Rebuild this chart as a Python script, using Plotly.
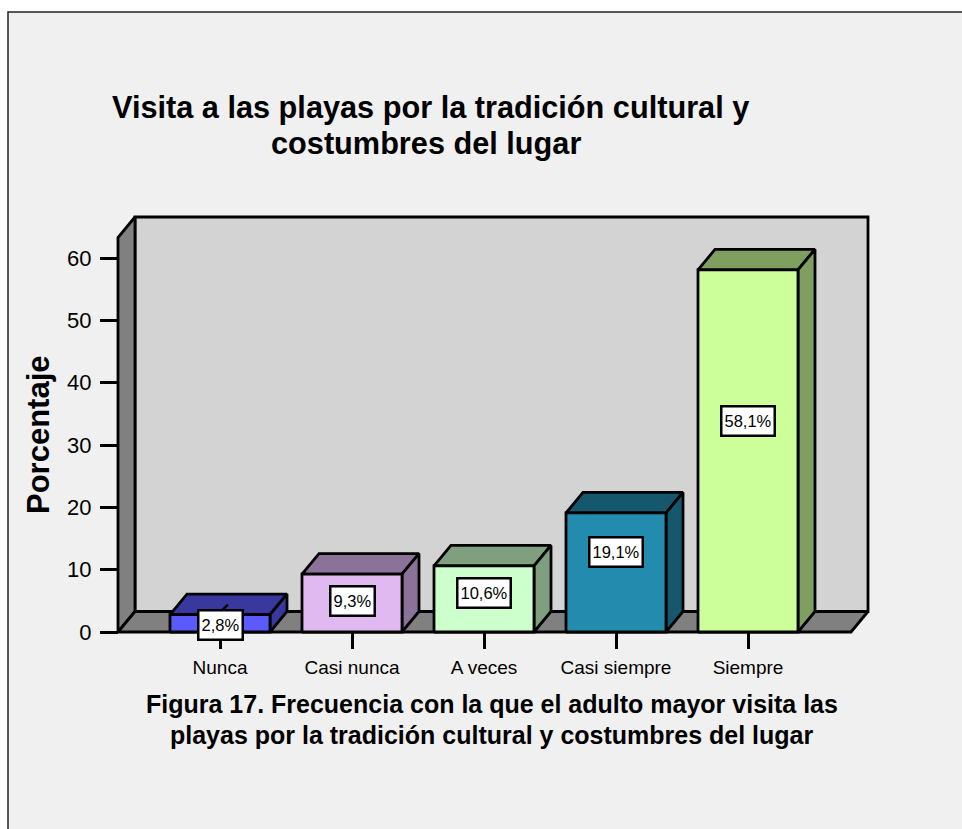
import plotly.graph_objects as go

categories = ["Nunca", "Casi nunca", "A veces", "Casi siempre", "Siempre"]
values = [2.8, 9.3, 10.6, 19.1, 58.1]
value_labels = ["2,8%", "9,3%", "10,6%", "19,1%", "58,1%"]
label_heights = [1.1, 4.9, 6.3, 12.8, 33.8]
front_colors = ["#5a5aff", "#dfb9f0", "#ccffcc", "#238bad", "#ccff99"]
side_colors = ["#38389f", "#8a7299", "#7f9f7f", "#15586d", "#7f9f60"]
y_ticks = [0, 10, 20, 30, 40, 50, 60]

W, H = 962, 829
L, R, T, B = 118, 868, 217, 632      # visible chart box, pixels
PAD = 8                              # spare room so that outlines are not clipped
PL, PR, PT, PB = L - PAD, R + PAD, T - PAD, B + PAD
PX_PER_CAT = 132.0
PX_PER_UNIT = 6.233
X0 = 220.0
x_min = (L - X0) / PX_PER_CAT
x_max = (R - X0) / PX_PER_CAT
y_max = (B - T) / PX_PER_UNIT
dx = 17 / PX_PER_CAT
dy = 20.5 / PX_PER_UNIT
half = 50 / PX_PER_CAT
wall_top = y_max - dy


def poly(xs, ys, fill):
    return go.Scatter(
        x=xs + [xs[0]], y=ys + [ys[0]], mode="lines", fill="toself", fillcolor=fill,
        line=dict(color="black", width=2.8, shape="linear"), hoverinfo="skip",
        showlegend=False,
    )


fig = go.Figure()
# back wall, left wall, floor
fig.add_trace(poly([x_min + dx, x_max, x_max, x_min + dx], [dy, dy, y_max, y_max], "#d3d3d3"))
fig.add_trace(poly([x_min, x_min + dx, x_min + dx, x_min], [0, dy, y_max, wall_top], "#808080"))
fig.add_trace(poly([x_min, x_min + dx, x_max, x_max - dx], [0, dy, dy, 0], "#808080"))

for i, v in enumerate(values):
    a, b = i - half, i + half
    fig.add_trace(poly([a, b, b + dx, a + dx], [v, v, v + dy, v + dy], side_colors[i]))
    fig.add_trace(poly([b, b + dx, b + dx, b], [0, dy, v + dy, v], side_colors[i]))
    fig.add_trace(poly([a, b, b, a], [0, 0, v, v], front_colors[i]))

# short leader stub visible above the first label
fig.add_trace(go.Scatter(
    x=[0.02, 0.06], y=[values[0] + 0.8, values[0] + 1.6], mode="lines",
    line=dict(color="black", width=2.4), hoverinfo="skip", showlegend=False,
))

annotations = []
for i, lab in enumerate(value_labels):
    annotations.append(dict(
        x=i, y=label_heights[i], xref="x", yref="y", text=lab, showarrow=False,
        font=dict(family="Liberation Sans", size=16.5, color="black"),
        bgcolor="white", bordercolor="black", borderwidth=2.5, borderpad=2, height=23,
    ))


def fx(x):
    return (x - PL) / (PR - PL)


def fy(y):
    return (PB - y) / (PB - PT)


def px_text(text, x, y, size, angle=0):
    return dict(
        xref="paper", yref="paper", x=fx(x), y=fy(y), text=text,
        showarrow=False, textangle=angle, xanchor="center", yanchor="middle",
        font=dict(family="Liberation Sans", size=size, color="black"),
    )


annotations += [
    px_text("<b>Visita a las playas por la tradición cultural y</b>", 430, 107, 30.7),
    px_text("<b>costumbres del lugar</b>", 426, 143, 30.7),
    px_text("<b>Figura 17. Frecuencia con la que el adulto mayor visita las</b>", 492, 704, 25),
    px_text("<b>playas por la tradición cultural y costumbres del lugar</b>", 492, 735, 25),
    px_text("<b>Porcentaje</b>", 38, 435, 31, angle=-90),
]

fig.update_layout(
    width=W, height=H, autosize=False,
    margin=dict(l=PL, r=W - PR, t=PT, b=H - PB, pad=0),
    paper_bgcolor="white", plot_bgcolor="rgba(0,0,0,0)",
    showlegend=False,
    annotations=annotations,
    shapes=[dict(
        type="rect", xref="paper", yref="paper", layer="below",
        x0=fx(8), x1=fx(W + 10), y0=fy(H + 10), y1=fy(12),
        fillcolor="#f0f0f0", line=dict(color="#222222", width=1.5),
    )],
    xaxis=dict(
        range=[(PL - X0) / PX_PER_CAT, (PR - X0) / PX_PER_CAT],
        anchor="free", position=fy(B),
        tickmode="array", tickvals=list(range(len(categories))),
        ticktext=categories, ticks="outside", ticklen=16, tickwidth=2.5, tickcolor="black",
        showgrid=False, zeroline=False, showline=False, ticklabelstandoff=2,
        tickfont=dict(family="Liberation Sans", size=19, color="black"), automargin=False,
    ),
    yaxis=dict(
        range=[(B - PB) / PX_PER_UNIT, (B - PT) / PX_PER_UNIT],
        anchor="free", position=fx(L),
        tickmode="array", tickvals=y_ticks,
        ticks="outside", ticklen=18, tickwidth=2.5, tickcolor="black",
        showgrid=False, zeroline=False, showline=False, ticklabelstandoff=4,
        tickfont=dict(family="Liberation Sans", size=22, color="black"), automargin=False,
    ),
)

fig.write_html(
    "out.html", config=dict(displayModeBar=False),
    post_script="document.documentElement.style.overflow='hidden';document.body.style.margin='0';",
)
